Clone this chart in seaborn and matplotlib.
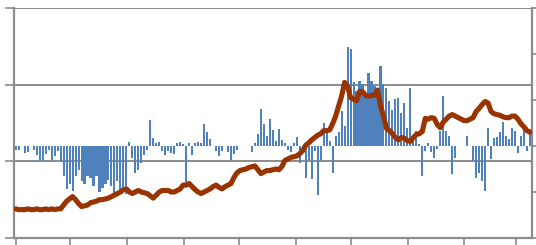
import matplotlib
matplotlib.use("Agg")
import matplotlib.pyplot as plt
import seaborn as sns
import numpy as np

# valores (uma observação a cada ~3 px)
barras = [-4, -4, 0, -8, -7, 0, -4, -10, -15, -16, -9, -4, -15, -11, -5, -17, -33, -47, -41, -49,
          -33, -26, -38, -41, -33, -35, -43, -33, -50, -46, -41, -37, -43, -51, -38, -48, -46, -52, 4, -13,
          -29, -26, -18, -10, -4, 28, 9, 3, 4, -5, -10, -5, -8, -9, 3, 4, 2, -41, 3, -10,
          3, 4, 3, 24, 15, 8, 0, -5, -11, -5, 0, -7, -15, -9, -4, 0, 0, 0, 0, -7,
          3, 13, 40, 24, 11, 29, 17, 5, 18, 7, 3, -4, -7, 3, 10, -18, -5, -35, -15, -36,
          -5, -53, -15, 25, 16, 5, -29, 11, 15, 38, 22, 108, 105, 70, 60, 71, 67, 57, 79, 71,
          65, 60, 87, 67, 63, 49, 39, 51, 52, 36, 47, 20, 63, 10, 16, 2, -33, -5, 3, -7,
          -13, -3, 16, 54, 16, 11, -30, -13, 0, 0, 0, 11, 0, -16, -35, -29, -38, -49, 20, -14,
          9, 10, 15, 26, 11, 8, 20, 16, -8, 11, 24, -5, 18]

linha = [38, 37, 37, 37, 38, 37, 37, 38, 37, 37, 38, 37, 38, 37, 38, 38, 43, 48, 51, 54,
         50, 45, 41, 42, 43, 46, 47, 48, 50, 50, 51, 52, 54, 56, 58, 60, 63, 64, 60, 58,
         60, 62, 60, 59, 58, 55, 52, 56, 60, 62, 62, 62, 60, 60, 62, 64, 69, 69, 71, 67,
         63, 60, 58, 60, 62, 64, 67, 69, 66, 64, 67, 69, 71, 79, 85, 88, 89, 90, 92, 93,
         94, 89, 84, 86, 88, 88, 89, 90, 89, 93, 101, 103, 105, 106, 107, 110, 114, 121, 124, 128,
         131, 134, 136, 140, 140, 141, 149, 159, 172, 185, 203, 198, 183, 181, 179, 191, 191, 186, 185, 186,
         186, 193, 173, 159, 143, 140, 136, 131, 128, 131, 130, 127, 126, 131, 135, 136, 139, 156, 155, 157,
         156, 148, 144, 151, 155, 159, 161, 159, 157, 155, 153, 153, 155, 157, 165, 169, 174, 178, 176, 165,
         162, 161, 160, 158, 157, 157, 159, 159, 155, 149, 145, 140, 138]

semanas = np.arange(len(barras))
ticks_x = [0, 18.3, 37.3, 56.3, 74.7, 93.7, 112.3, 131.3, 150, 167.3]

sns.set_style("white")
cinza = "#8c8c8c"

fig = plt.figure(figsize=(5.36, 2.45), dpi=100)
ax = fig.add_axes([14 / 536, 1 - 238 / 245, (532 - 14) / 536, (238 - 8) / 245])
ax2 = ax.twinx()
ax3 = ax.twinx()

# eixo esquerdo: grade
ax.set_ylim(0, 300)
ax.set_yticks([0, 100, 200, 300])
ax.grid(axis="y", color=cinza, linewidth=1.4)
ax.set_axisbelow(True)

# barras no eixo direito
sns.barplot(x=semanas, y=barras, ax=ax2, color="#4f81bd", native_scale=True,
            width=0.7, linewidth=0, saturation=1)
ax2.set_ylim(-100, 150)
ax2.set_yticks([-100, -50, 0, 50, 100, 150])

# linha no eixo esquerdo (por cima das barras)
sns.lineplot(x=semanas, y=linha, ax=ax3, color="#993300", linewidth=3.7,
             solid_joinstyle="round", solid_capstyle="round")
ax3.set_ylim(0, 300)

for a in (ax, ax2, ax3):
    a.set_xlim(-0.6, 172.7)
    a.set_xlabel("")
    a.set_ylabel("")
    for s in a.spines.values():
        s.set_visible(False)

ax.spines["left"].set_visible(True)
ax.spines["bottom"].set_visible(True)
ax2.spines["right"].set_visible(True)
for a, lado in ((ax, "left"), (ax, "bottom"), (ax2, "right")):
    a.spines[lado].set_color(cinza)
    a.spines[lado].set_linewidth(1.6)

ax.set_xticks(ticks_x)
ax.tick_params(axis="x", bottom=True, length=5, width=1.2, color=cinza, labelbottom=False)
ax.tick_params(axis="y", left=True, length=6.5, width=1.2, color=cinza, labelleft=False)
ax2.tick_params(axis="y", right=True, length=3, width=1.2, color=cinza, labelright=False)
ax2.tick_params(axis="x", bottom=False, labelbottom=False)
ax3.set_yticks([])
ax3.tick_params(axis="both", left=False, right=False, bottom=False,
                labelleft=False, labelright=False, labelbottom=False)

fig.savefig("out.png", dpi=100)
